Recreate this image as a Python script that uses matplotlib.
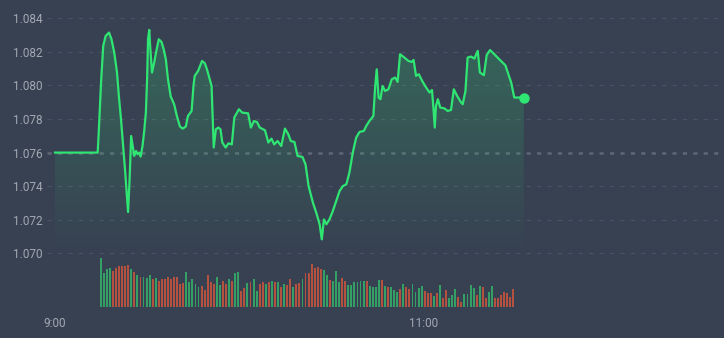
import numpy as np
import matplotlib.pyplot as plt
from matplotlib.patches import Polygon

plt.rcParams['font.family'] = ['Roboto', 'DejaVu Sans']
plt.rcParams['lines.scale_dashes'] = False

# price line: minutes after 9:00 and price
price_t = [0, 13.9, 14.3, 15.0, 15.7, 16.5, 17.6, 18.4, 19.3, 20.2, 20.8, 21.5, 22.2, 22.8,
           23.3, 23.8, 24.3, 24.8, 25.3, 25.8, 26.4, 26.9, 27.4, 27.9, 28.5, 29.0, 29.6, 30.0,
           30.3, 30.7, 31.0, 31.6, 32.3, 32.9, 33.8, 34.7, 35.4, 36.1, 36.8, 37.7, 38.8, 39.7,
           40.7, 41.6, 42.6, 43.3, 44.5, 45.1, 45.5, 46.6, 47.9, 48.8, 49.5, 50.4, 51.0, 51.3,
           51.7, 52.4, 53.2, 53.9, 54.5, 55.6, 56.5, 57.6, 58.4, 59.9, 61.0, 62.9, 63.8, 64.8,
           65.8, 66.7, 68.4, 69.5, 70.5, 71.4, 72.5, 73.7, 74.9, 76.0, 76.8, 78.0, 79.0, 80.6,
           81.6, 82.6, 84.0, 85.1, 86.2, 86.9, 87.6, 88.4, 89.4, 90.5, 91.6, 92.7, 93.8, 94.9,
           95.9, 97.0, 98.1, 99.2, 100.6, 101.4, 102.4, 103.7, 104.3, 104.8, 105.4, 106.0, 106.7,
           107.5, 108.6, 109.7, 110.8, 111.6, 112.4, 113.8, 115.1, 116.2, 116.8, 117.6, 118.5,
           119.6, 120.9, 122.0, 122.8, 123.3, 123.7, 124.1, 124.7, 125.5, 126.8, 127.9, 129.0,
           129.9, 131.0, 132.3, 132.8, 133.7, 134.4, 135.5, 136.6, 137.7, 138.4, 139.7, 140.6,
           141.7, 143.1, 144.7, 146.7, 147.5, 148.6, 149.6, 152.7]
price_v = [1.0760, 1.0760, 1.07739, 1.08019, 1.08235, 1.08295, 1.08315, 1.08275, 1.08196,
           1.08077, 1.07937, 1.07798, 1.07639, 1.07500, 1.07371, 1.07246, 1.07441, 1.07699,
           1.07639, 1.07580, 1.07610, 1.07590, 1.07600, 1.07576, 1.07639, 1.07719, 1.07838,
           1.08037, 1.08275, 1.08331, 1.08235, 1.08077, 1.08136, 1.08196, 1.08275, 1.08259,
           1.08216, 1.08156, 1.08037, 1.07934, 1.07888, 1.07818, 1.07755, 1.07743, 1.07755,
           1.07818, 1.07848, 1.07997, 1.08057, 1.08086, 1.08146, 1.08132, 1.08096, 1.08037,
           1.07997, 1.07838, 1.07630, 1.07739, 1.07749, 1.07739, 1.07660, 1.07630, 1.07655,
           1.07649, 1.07809, 1.07858, 1.07838, 1.07834, 1.07749, 1.07788, 1.07782, 1.07749,
           1.07733, 1.07660, 1.07683, 1.07649, 1.07669, 1.07639, 1.07743, 1.07709, 1.07669,
           1.07663, 1.07580, 1.07574, 1.07530, 1.07401, 1.07302, 1.07242, 1.07173, 1.07083,
           1.07202, 1.07173, 1.07202, 1.07252, 1.07312, 1.07371, 1.07401, 1.07411, 1.07481,
           1.07600, 1.07689, 1.07723, 1.07729, 1.07759, 1.07788, 1.07818, 1.07997, 1.08096,
           1.07928, 1.07918, 1.07997, 1.07967, 1.07977, 1.08037, 1.08047, 1.08021, 1.08186,
           1.08166, 1.08146, 1.08140, 1.08152, 1.08057, 1.08067, 1.08027, 1.07987, 1.07958,
           1.07973, 1.07858, 1.07749, 1.07878, 1.07918, 1.07868, 1.07864, 1.07848, 1.07854,
           1.07977, 1.07937, 1.07898, 1.07888, 1.07967, 1.08166, 1.08172, 1.08160, 1.08206,
           1.08077, 1.08061, 1.08180, 1.08211, 1.08186, 1.08156, 1.08120, 1.08077, 1.08017,
           1.07928, 1.07928]

prev_close = 1.076

# volume bars, first at ~9:15, last at ~11:29 ; G = up, R = down
vol_first, vol_last = 14.9, 149.3
vol = [147, 102, 115, 117, 109, 117, 124, 124, 122, 127, 114, 105, 97, 90, 90, 88, 97, 85,
       87, 79, 85, 85, 90, 85, 90, 90, 70, 72, 105, 75, 84, 70, 60, 64, 52, 97, 74, 70, 90,
       67, 79, 70, 84, 79, 102, 105, 49, 57, 72, 75, 84, 49, 70, 75, 70, 75, 79, 74, 75, 60,
       70, 67, 84, 60, 70, 72, 84, 102, 102,
       130, 117, 120, 115, 112, 95, 82, 79, 107, 74, 87, 79, 67, 67, 75, 74, 79, 79, 79, 64,
       60, 60, 82, 82, 64, 60, 60, 52, 47, 55, 70, 60, 55, 70, 46, 59, 64, 49, 44, 44, 34,
       44, 66, 29, 52, 29, 37, 55, 32, 17, 40, 40, 67, 59, 37, 64, 60, 27, 47, 64, 27, 27,
       37, 47, 44, 32, 55]
vol_dir = ("GGGGRRRRRRGRGRGGGRGRRRRRRRRRGGGGGRRRRRGGRRGRGGRRGRGGRRGRGRGRGRRGRRGRR"
           "RRRRGGRGGGRRGGGGGGRGGGGRGRGGGRGRRGGGGRRRGRGRRGGGRRGGGGRGRRGGRRRRRRR")

tick_t = [0, 120]
tick_lbl = ['9:00', '11:00']
price_ticks = [1.070, 1.072, 1.074, 1.076, 1.078, 1.080, 1.082, 1.084]

BG = '#384152'
LINE = '#2fe673'
UP = '#35a065'
DOWN = '#b5513f'
TXT = '#a3a9b3'
GRID = '#4b5466'

W, H = 724, 338
px_per_min = 3.07
px_per_unit = 16786.0
x0 = 55  # pixel of 9:00

fig = plt.figure(figsize=(W / 100, H / 100), dpi=100)
fig.patch.set_facecolor(BG)

left = 47
xlim = ((left - x0) / px_per_min, (W - x0) / px_per_min)
ylim = (1.070 - 2.7 / px_per_unit, 1.084 + 18.3 / px_per_unit)

ax = fig.add_axes([left / W, (H - 256) / H, (W - left) / W, 256 / H])
ax.set_facecolor(BG)
for s in ax.spines.values():
    s.set_visible(False)

# grid
for p in price_ticks:
    if abs(p - prev_close) < 1e-9:
        continue
    ax.axhline(p, color=GRID, lw=0.8, dashes=(3, 4.5), zorder=1)
ax.axhline(prev_close, color='#5f6676', lw=1.8, dashes=(3, 4.5), zorder=1)

ax.set_yticks(price_ticks)
ax.set_yticklabels(['%.3f' % p for p in price_ticks])
ax.set_xticks([])
ax.tick_params(axis='y', length=0, pad=3, labelsize=8.5, labelcolor=TXT)

# gradient fill under the line
t = np.array(price_t)
v = np.array(price_v)
ybot = 1.070
verts = [[t[0], ybot]] + np.column_stack([t, v]).tolist() + [[t[-1], ybot]]
poly = Polygon(verts, closed=True, facecolor='none', edgecolor='none')
ax.add_patch(poly)
grad = np.zeros((256, 1, 4))
grad[:, 0, 0] = 0.18
grad[:, 0, 1] = 0.9
grad[:, 0, 2] = 0.45
grad[:, 0, 3] = np.linspace(0.24, 0.0, 256)
im = ax.imshow(grad, extent=[t[0], t[-1], ybot, v.max()], aspect='auto',
               origin='upper', zorder=2, interpolation='bilinear')
im.set_clip_path(poly)

ax.plot(t, v, color=LINE, lw=1.6, zorder=4, solid_joinstyle='round')
ax.plot(t[-1], v[-1], 'o', color=LINE, ms=6.5, zorder=5)
ax.set_xlim(xlim)
ax.set_ylim(ylim)

# volume
vax = fig.add_axes([left / W, (H - 307.3) / H, (W - left) / W, 49.3 / H])
vax.set_facecolor('none')
vt = np.linspace(vol_first, vol_last, len(vol))
colors = [UP if c == 'G' else DOWN for c in vol_dir[:len(vol)]]
vax.bar(vt, vol, width=0.62, color=colors, linewidth=0)
vax.set_xlim(xlim)
vax.set_ylim(0, 147)
for s in vax.spines.values():
    s.set_visible(False)
vax.set_yticks([])
vax.set_xticks(tick_t)
vax.set_xticklabels(tick_lbl)
vax.tick_params(axis='x', length=0, pad=7, labelsize=8.5, labelcolor=TXT)

fig.savefig('out.png', dpi=100, facecolor=BG)
